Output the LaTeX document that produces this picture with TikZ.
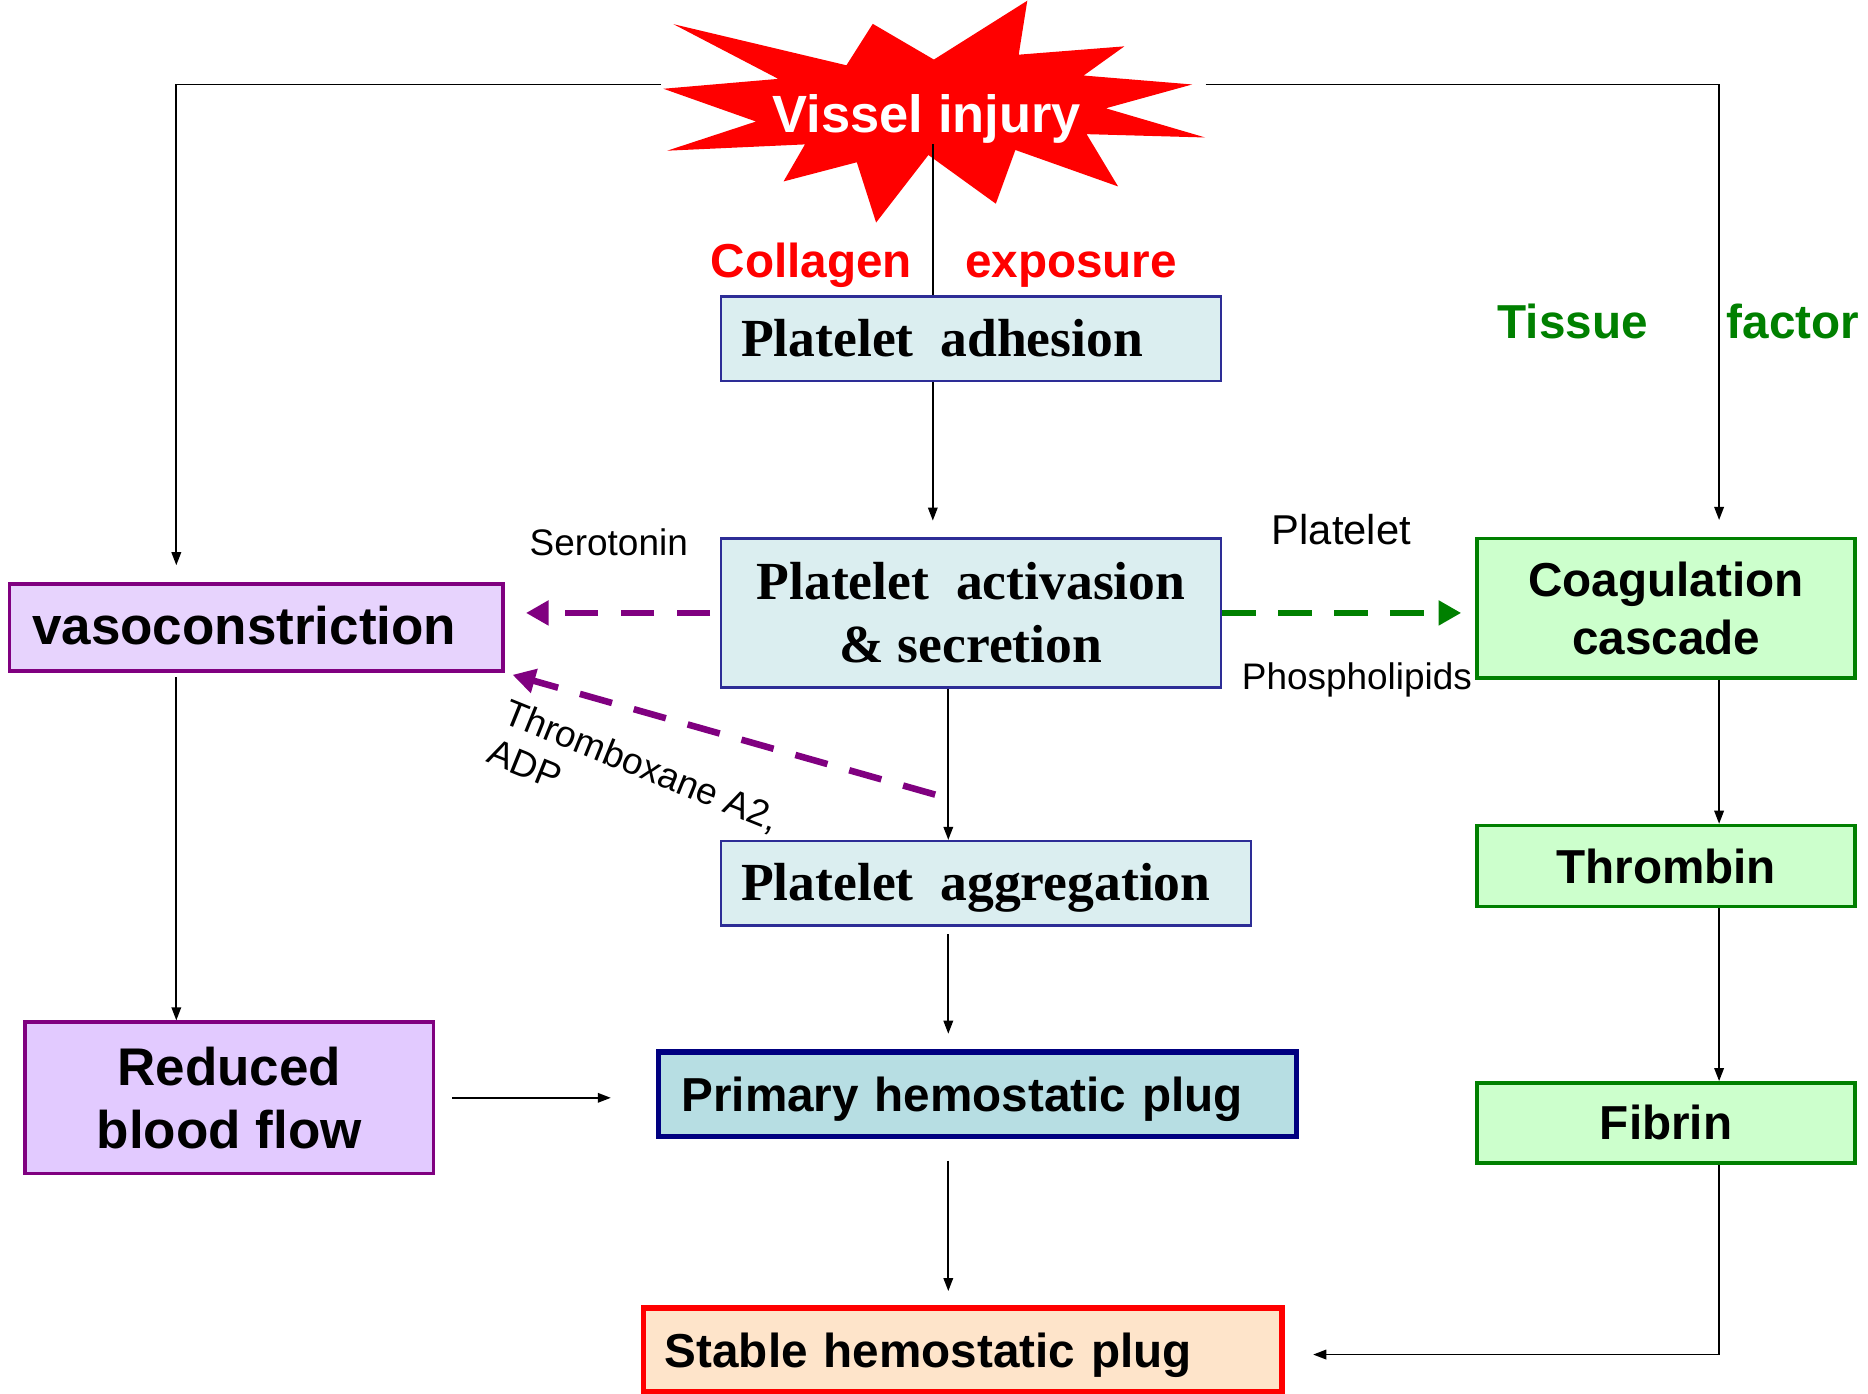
\documentclass[tikz,border=0pt]{standalone}
\usepackage{fontspec}
\setmainfont{Liberation Serif}
\setsansfont{Liberation Sans}
\usetikzlibrary{arrows.meta}

\definecolor{vpurple}{RGB}{128,0,128}
\definecolor{dkgreen}{RGB}{0,128,0}
\definecolor{boxblue}{RGB}{45,45,150}
\definecolor{navyline}{RGB}{0,0,128}
\definecolor{paleblue}{RGB}{219,238,240}
\definecolor{primfill}{RGB}{183,222,227}
\definecolor{stabfill}{RGB}{254,228,202}
\definecolor{vasofill}{RGB}{231,211,253}
\definecolor{redfill}{RGB}{226,202,255}
\definecolor{gfill}{RGB}{204,255,204}

\newcommand{\fsSerif}{\fontsize{45}{53}\selectfont\bfseries}
\newcommand{\fsBig}{\fontsize{44.5}{53}\selectfont\sffamily\bfseries}
\newcommand{\fsMed}{\fontsize{40}{49}\selectfont\sffamily\bfseries}
\newcommand{\fsSmall}{\fontsize{31}{36}\selectfont\sffamily}
\newcommand{\gapP}{\hspace{22.5pt}}

\begin{document}
\begin{tikzpicture}[x=1pt, y=-1pt,
    ln/.style={line width=1.5pt, black},
    arr/.style={ln, -{Triangle[length=11pt,width=8pt]}},
    dsh/.style={line width=5.5pt, dash pattern=on 28pt off 19pt, -{Triangle[length=19pt,width=20pt]}},
    bx/.style={draw, inner sep=0pt, align=center},
    oneline/.style={align=left, text height=36pt, text depth=7pt},
    pbox/.style={bx, draw=boxblue, line width=2pt, fill=paleblue, font=\fsSerif},
    vbox/.style={bx, draw=vpurple, line width=3pt},
    gbox/.style={bx, draw=dkgreen, line width=3pt, fill=gfill, font=\fsMed, minimum width=317pt},
    lbl/.style={font=\fsSmall, inner sep=0pt},
    tag/.style={font=\fsMed, anchor=base}]
    \useasboundingbox (0,0) rectangle (1568,1170);

    % vessel injury burst
    \fill[red] (565.3,20.3) -- (710.5,54.8) -- (732.6,20.0) -- (783.9,50.0) -- (862.3,0.6)
        -- (855.1,45.9) -- (943.8,38.9) -- (909.6,63.4) -- (1000.7,70.9) -- (928.2,90.9)
        -- (1011.6,115.4) -- (912.1,112.6) -- (938.5,156.5) -- (852.3,125.9) -- (835.9,171.0)
        -- (779.3,130.1) -- (735.4,186.8) -- (719.2,136.2) -- (657.7,152.3) -- (675.7,121.2)
        -- (560.0,126.5) -- (634.6,102.0) -- (556.9,74.5) -- (653.3,66.2) -- cycle;
    \node[font=\fontsize{44}{50}\selectfont\sffamily\bfseries, text=white, anchor=base] (inj) at (778,111) {Vissel injury};

    % platelet column
    \node[pbox, oneline, minimum width=420pt, minimum height=71pt, text width=386pt] (adh) at (815,284.5) {Platelet\gapP adhesion};
    \node[pbox, minimum width=420pt, minimum height=125pt] (act) at (815,514.5) {Platelet\gapP activasion\\\& secretion};
    \node[pbox, oneline, minimum width=445pt, minimum height=71pt, text width=411pt] (agg) at (827.5,741.5) {Platelet\gapP aggregation};
    \node[bx, oneline, draw=navyline, line width=4.5pt, fill=primfill, font=\fsMed, minimum width=535pt, minimum height=71pt, text width=497pt] (prim) at (820.5,918.5) {Primary hemostatic plug};
    \node[bx, oneline, draw=red, line width=4.5pt, fill=stabfill, font=\fsMed, minimum width=536pt, minimum height=70pt, text width=500pt] (stab) at (808,1133) {Stable hemostatic plug};

    % vascular side
    \node[vbox, oneline, fill=vasofill, font=\fsBig, minimum width=414pt, minimum height=73pt, text width=376pt] (vaso) at (215,526.5) {vasoconstriction};
    \node[vbox, fill=redfill, font=\fsBig, minimum width=343pt, minimum height=127pt] (red) at (192.5,921.5) {Reduced\\blood flow};

    % coagulation side
    \node[gbox, minimum height=117pt] (coag) at (1398.5,510.5) {Coagulation\\cascade};
    \node[gbox, minimum height=68pt] (thr) at (1398.5,727) {Thrombin};
    \node[gbox, minimum height=67pt] (fib) at (1398.5,942.5) {Fibrin};

    % labels
    \node[tag, text=red] (col) at (681,233) {Collagen};
    \node[tag, text=red] (exps) at (899,233) {exposure};
    \node[tag, text=dkgreen] (tis) at (1320,284) {Tissue};
    \node[tag, text=dkgreen] (fac) at (1505,284) {factor};
    \node[lbl, anchor=base] (ser) at (511,466) {Serotonin};
    \node[lbl, anchor=base, font=\fontsize{35}{40}\selectfont\sffamily] (plt) at (1126,457) {Platelet};
    \node[lbl, anchor=base] (phos) at (1139,579) {Phospholipids};
    \node[lbl, rotate=-22, anchor=north west, align=left] (txa) at (429,585) {Thromboxane A2,\\ADP};

    % connectors
    \coordinate (xl) at (148,0);
    \coordinate (xr) at (1443,0);
    \coordinate (xa) at (783,0);
    \coordinate (xm) at (796,0);
    \coordinate (injL) at (555,71);
    \coordinate (injR) at (1012,71);
    \coordinate (injC) at (783,121);
    \coordinate (dA) at (785,667);

    \draw[ln] (injC) -- (adh.north -| injC);
    \draw[arr, shorten >=14pt] (injL) -| (vaso.north -| xl);
    \draw[arr, shorten >=14pt] (injR) -| (coag.north -| xr);
    \draw[arr, shorten >=14pt] (adh.south -| xa) -- (act.north -| xa);
    \draw[arr] (act.south -| xm) -- (agg.north -| xm);
    \draw[arr, shorten <=6pt, shorten >=13pt] (agg.south -| xm) -- (prim.north -| xm);
    \draw[arr, shorten <=18pt, shorten >=12pt] (prim.south -| xm) -- (stab.north -| xm);
    \draw[arr, shorten <=4pt] (vaso.south -| xl) -- (red.north -| xl);
    \draw[arr, shorten <=14pt, shorten >=38pt] (red.east) -- (red.east -| prim.west);
    \draw[arr] (coag.south -| xr) -- (thr.north -| xr);
    \draw[arr] (thr.south -| xr) -- (fib.north -| xr);
    \draw[arr, shorten >=24pt] (fib.south -| xr) |- ([yshift=-4pt]stab.east);

    \draw[dsh, vpurple, shorten <=8pt, shorten >=18pt] (act.west) -- (act.west -| vaso.east);
    \draw[dsh, dkgreen, shorten >=12pt] (act.east) -- (act.east -| coag.west);
    \draw[dsh, vpurple, shorten >=7pt] (dA) -- (vaso.south east);
\end{tikzpicture}
\end{document}
